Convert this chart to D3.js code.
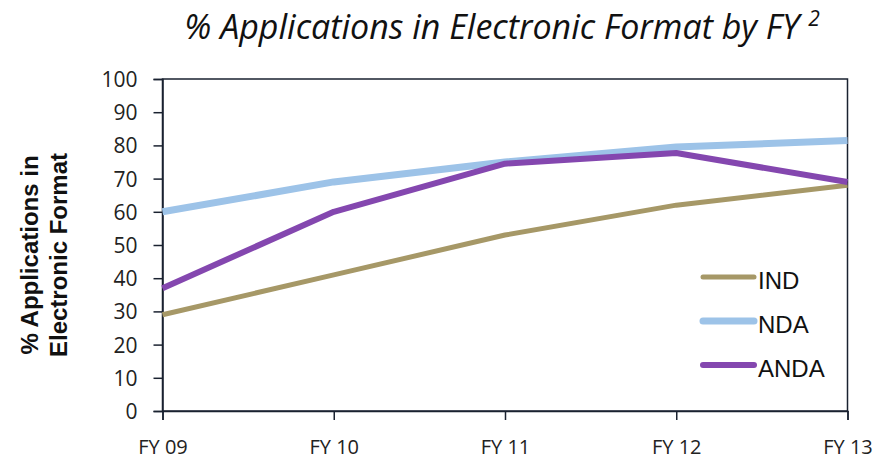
<!DOCTYPE html>
<html><head><meta charset="utf-8">
<script src="https://cdn.jsdelivr.net/npm/d3@7"></script>
<style>body{margin:0;background:#fff;}svg{display:block;}</style>
</head><body>
<script>
const categories = ["FY 09","FY 10","FY 11","FY 12","FY 13"];
const seriesNames = ["IND","NDA","ANDA"];
const indValues = [29, 41, 53, 62, 68];
const ndaValues = [60, 69, 75, 79.5, 81.5];
const andaValues = [37, 60, 74.5, 77.7, 69];
const yTicks = [0,10,20,30,40,50,60,70,80,90,100];
const colors = ["#A69867","#9DC3E8","#8447AF"];
const widths = [5, 7, 6];

const W = 891, H = 459;
const m = {left:162.5, right:891-847.5, top:79, bottom:459-411};
const svg = d3.select("body").append("svg").attr("width",W).attr("height",H);

const x = d3.scalePoint().domain(categories).range([m.left, W-m.right]);
const y = d3.scaleLinear().domain([0,100]).range([H-m.bottom, m.top]);

// frame
svg.append("rect").attr("x",m.left).attr("y",m.top)
  .attr("width",W-m.right-m.left).attr("height",H-m.bottom-m.top)
  .attr("fill","none").attr("stroke","#1a2230").attr("stroke-width",1.5);

const yAxis = svg.append("g").attr("transform",`translate(${m.left},0)`)
  .call(d3.axisLeft(y).tickValues(yTicks).tickSize(9).tickPadding(16));
const xAxis = svg.append("g").attr("transform",`translate(0,${H-m.bottom})`)
  .call(d3.axisBottom(x).tickSize(9));
[yAxis,xAxis].forEach(a=>{
  a.selectAll("path,line").attr("stroke","#1a2230").attr("stroke-width",1.5);
  a.selectAll("text").attr("fill","#222").style("font-family","'Open Sans',sans-serif").style("font-size","21px");
});
xAxis.selectAll("text").attr("y",42.5).attr("dy",0).style("font-size","20px");
yAxis.selectAll("text").attr("dy","0.36em");

const data = [indValues, ndaValues, andaValues];
const line = d3.line().x((d,i)=>x(categories[i])).y(d=>y(d));
data.forEach((vals,k)=>{
  svg.append("path").datum(vals).attr("d",line).attr("fill","none")
    .attr("stroke",colors[k]).attr("stroke-width",widths[k]).attr("stroke-linejoin","round");
});

// legend
const ly = [277, 321, 365];
seriesNames.forEach((n,k)=>{
  svg.append("line").attr("x1",703).attr("x2",754).attr("y1",ly[k]).attr("y2",ly[k])
    .attr("stroke",colors[k]).attr("stroke-width",widths[k]).attr("stroke-linecap","round");
  svg.append("text").attr("x",758).attr("y",ly[k]+12).text(n)
    .style("font-family","'Liberation Sans',Arial,sans-serif").style("font-size","24px").attr("fill","#111");
});

// title
const t = svg.append("text").attr("x",502).attr("y",39).attr("text-anchor","middle")
  .style("font-family","'Open Sans',sans-serif").style("font-style","italic").style("font-size","34px").attr("fill","#111");
t.append("tspan").text("% Applications in Electronic Format by FY ");
t.append("tspan").text("2").attr("dy",-13).style("font-size","21px");

// y title
const yt = svg.append("text").attr("transform","translate(0,255) rotate(-90)")
  .attr("text-anchor","middle").style("font-family","'Liberation Sans',Arial,sans-serif")
  .style("font-weight","bold").style("font-size","24px").attr("fill","#111");
yt.append("tspan").attr("x",0).attr("y",38).text("% Applications in");
yt.append("tspan").attr("x",0).attr("y",67).text("Electronic Format");
</script>
</body></html>
